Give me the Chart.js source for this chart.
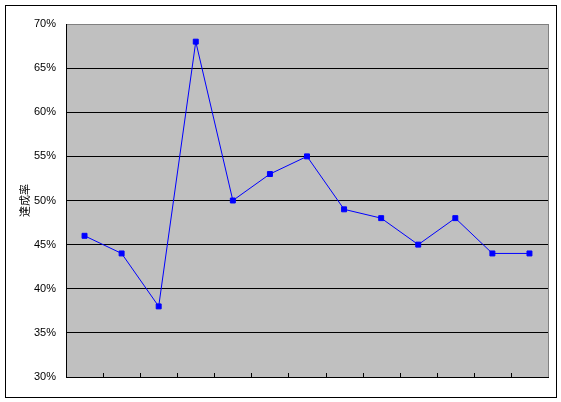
<!DOCTYPE html>
<html>
<head>
<meta charset="utf-8">
<script src="https://cdn.jsdelivr.net/npm/chart.js@4"></script>
<style>
  html, body { margin: 0; padding: 0; background: #fff; }
  #wrap { position: relative; width: 561px; height: 402px; }
  #frame { position: absolute; left: 5px; top: 5px; width: 550px; height: 391px; border: 1px solid #000; box-sizing: content-box; pointer-events: none; }
</style>
</head>
<body>
<div id="wrap">
  <canvas id="rateChart" width="561" height="402"></canvas>
  <div id="frame"></div>
</div>
<script>
const categories = ['1', '2', '3', '4', '5', '6', '7', '8', '9', '10', '11', '12', '13'];
const rateValues = [46, 44, 38, 68, 50, 53, 55, 49, 48, 45, 48, 44, 44];
const yTickValues = [30, 35, 40, 45, 50, 55, 60, 65, 70];
const yTitle = '達成率';

const plotBackground = {
    id: 'plotBackground',
    beforeDraw(chart) {
        const { ctx, chartArea: a } = chart;
        ctx.save();
        ctx.fillStyle = '#c0c0c0';
        ctx.fillRect(a.left, a.top, a.right - a.left, a.bottom - a.top);
        ctx.strokeStyle = '#808080';
        ctx.lineWidth = 1;
        ctx.strokeRect(a.left + 0.5, a.top + 0.5, a.right - a.left, a.bottom - a.top);
        ctx.restore();
    },
    afterDatasetsDraw(chart) {
        // inside tick marks on the category boundaries
        const { ctx, chartArea: a, scales } = chart;
        const x = scales.x;
        ctx.save();
        ctx.strokeStyle = '#000';
        ctx.lineWidth = 1;
        ctx.beginPath();
        for (let i = 1; i < categories.length; i++) {
            const px = Math.round((x.getPixelForValue(i - 1) + x.getPixelForValue(i)) / 2) + 0.5;
            ctx.moveTo(px, a.bottom);
            ctx.lineTo(px, a.bottom - 4);
        }
        ctx.stroke();
        ctx.restore();
    }
};

new Chart(document.getElementById('rateChart'), {
    type: 'line',
    data: {
        labels: categories,
        datasets: [{
            data: rateValues,
            borderColor: '#0000ff',
            backgroundColor: '#0000ff',
            borderWidth: 1,
            pointStyle: 'rect',
            pointRadius: 3.5,
            pointBorderWidth: 1,
            tension: 0
        }]
    },
    options: {
        responsive: false,
        animation: false,
        layout: { padding: { left: 0, top: 24, right: 13, bottom: 0 } },
        plugins: {
            legend: { display: false },
            tooltip: { enabled: false }
        },
        scales: {
            x: {
                offset: true,
                grid: { display: false, drawTicks: false },
                border: { color: '#000', width: 1 },
                ticks: { display: false },
                afterFit(scale) { scale.height = 25; }
            },
            y: {
                min: 30,
                max: 70,
                afterBuildTicks(scale) {
                    scale.ticks = yTickValues.map(v => ({ value: v }));
                },
                grid: {
                    drawTicks: false,
                    color: ctx => (ctx.tick && ctx.tick.value === 70 ? '#808080' : '#000'),
                    lineWidth: 1
                },
                border: { color: '#000', width: 1 },
                ticks: {
                    padding: 10,
                    color: '#000',
                    font: { family: 'Liberation Sans, Noto Sans CJK JP', size: 11 },
                    callback: v => v + '%'
                },
                title: {
                    display: true,
                    text: yTitle,
                    color: '#000',
                    font: { family: 'Noto Sans CJK JP', size: 11 },
                    padding: { top: 18, bottom: 0 }
                },
                afterFit(scale) { scale.width = 66; }
            }
        }
    },
    plugins: [plotBackground]
});
</script>
</body>
</html>
